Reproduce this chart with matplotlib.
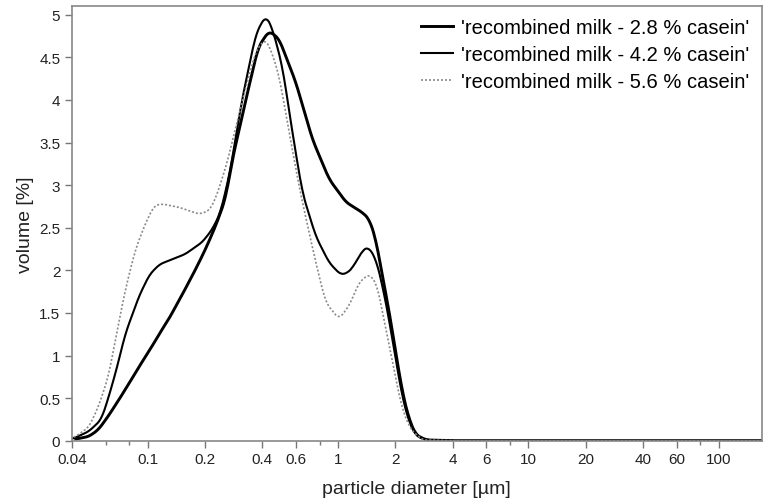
import numpy as np
import matplotlib
matplotlib.use("Agg")
import matplotlib.pyplot as plt
from matplotlib.ticker import FixedLocator, NullFormatter

plt.rcParams['font.family'] = ['Liberation Sans', 'DejaVu Sans']

# particle size distributions (diameter in um, volume in %)
d_28 = [0.0418, 0.049, 0.055, 0.062, 0.0704, 0.080, 0.090, 0.102, 0.119, 0.129, 0.152, 0.178, 0.201,
        0.227, 0.256, 0.278, 0.328, 0.38, 0.433, 0.489, 0.599, 0.732, 0.897,
        1.10, 1.34, 1.46, 1.58, 1.71, 1.86, 2.01, 2.18, 2.36, 2.56, 2.89, 4, 20, 168]
v_28 = [0.02, 0.05, 0.13, 0.29, 0.48, 0.68, 0.87, 1.06, 1.31, 1.43, 1.72, 2.01, 2.25,
        2.52, 2.84, 3.30, 4.01, 4.62, 4.81, 4.72, 4.21, 3.54, 3.07,
        2.80, 2.68, 2.60, 2.36, 1.93, 1.50, 1.03, 0.56, 0.25, 0.07, 0.01, 0.0, 0.0, 0.0]

d_42 = [0.040, 0.049, 0.057, 0.062, 0.0687, 0.076, 0.081, 0.090, 0.102, 0.115, 0.134, 0.157,
        0.193, 0.218, 0.241, 0.270, 0.313, 0.37, 0.416, 0.45, 0.509, 0.575,
        0.649, 0.763, 0.897, 1.03, 1.12, 1.19, 1.34, 1.44, 1.58, 1.71, 1.86,
        2.01, 2.18, 2.36, 2.56, 2.89, 4, 20, 168]
v_42 = [0.02, 0.11, 0.25, 0.50, 0.85, 1.25, 1.42, 1.70, 1.95, 2.07, 2.13, 2.19,
        2.33, 2.48, 2.68, 3.15, 4.01, 4.78, 4.99, 4.85, 4.40, 3.62,
        2.91, 2.40, 2.09, 1.95, 1.97, 2.03, 2.23, 2.28, 2.13, 1.82, 1.40,
        0.95, 0.50, 0.22, 0.06, 0.01, 0.0, 0.0, 0.0]

d_56 = [0.0408, 0.049, 0.055, 0.062, 0.0704, 0.0763, 0.0862, 0.0975, 0.108, 0.119, 0.146,
        0.186, 0.210, 0.227, 0.260, 0.315, 0.37, 0.416, 0.45, 0.489, 0.553,
        0.623, 0.704, 0.794, 0.862, 1.01, 1.14, 1.29, 1.46, 1.61, 1.71, 1.86,
        2.01, 2.18, 2.41, 2.78, 4, 20, 168]
v_56 = [0.035, 0.16, 0.40, 0.75, 1.39, 1.78, 2.25, 2.56, 2.76, 2.78, 2.74,
        2.66, 2.70, 2.84, 3.25, 4.01, 4.58, 4.72, 4.55, 4.29, 3.62,
        2.99, 2.44, 1.93, 1.62, 1.43, 1.58, 1.86, 1.96, 1.82, 1.50, 1.11,
        0.72, 0.36, 0.13, 0.01, 0.0, 0.0, 0.0]

labels = ["'recombined milk - 2.8 % casein'",
          "'recombined milk - 4.2 % casein'",
          "'recombined milk - 5.6 % casein'"]

x_major = [0.04, 0.1, 0.2, 0.4, 0.6, 1, 2, 4, 6, 10, 20, 40, 60, 100]
x_major_labels = ['0.04', '0.1', '0.2', '0.4', '0.6', '1', '2', '4', '6', '10', '20', '40', '60', '100']
x_minor = [0.06, 0.08, 0.8, 8, 80]
y_ticks = [0, 0.5, 1, 1.5, 2, 2.5, 3, 3.5, 4, 4.5, 5]
y_tick_labels = ['0', '0.5', '1', '1.5', '2', '2.5', '3', '3.5', '4', '4.5', '5']


def smooth(d, v, n=600):
    # resample on a log grid so the lines look continuous
    ld = np.log10(d)
    grid = np.linspace(ld[0], ld[-1], n)
    vals = np.interp(grid, ld, v)
    k = 7
    kern = np.ones(k) / k
    padded = np.concatenate([np.full(k // 2, vals[0]), vals, np.full(k // 2, vals[-1])])
    vals = np.convolve(padded, kern, mode='valid')
    return 10 ** grid, vals


fig = plt.figure(figsize=(7.67, 5.02), dpi=100)
ax = fig.add_axes([0.094, 0.120, 0.899, 0.8655])

x, y = smooth(d_28, v_28)
ax.plot(x, y, color='black', lw=2.1, label=labels[0])
x, y = smooth(d_42, v_42)
ax.plot(x, y, color='black', lw=1.5, label=labels[1])
x, y = smooth(d_56, v_56)
ax.plot(x, y, color='#8a8a8a', lw=1.2, ls=(0, (1.2, 1.2)), label=labels[2])

ax.set_xscale('log')
ax.set_xlim(0.04, 168)
ax.set_ylim(0, 5.1)

ax.xaxis.set_major_locator(FixedLocator(x_major))
ax.set_xticklabels(x_major_labels)
ax.xaxis.set_minor_locator(FixedLocator(x_minor))
ax.xaxis.set_minor_formatter(NullFormatter())
ax.set_yticks(y_ticks)
ax.set_yticklabels(y_tick_labels)

ax.tick_params(axis='both', which='major', direction='out', length=5, width=1,
               color='#777777', labelsize=11, labelcolor='#222222')
ax.tick_params(axis='x', which='minor', direction='out', length=3, width=1, color='#777777')
ax.tick_params(axis='x', pad=3)
for s in ax.spines.values():
    s.set_color('#888888')
    s.set_linewidth(1.2)

ax.set_xlabel('particle diameter [µm]', fontsize=14, color='#222222', labelpad=10)
ax.set_ylabel('volume [%]', fontsize=14, color='#222222', labelpad=4)

ax.legend(loc='upper right', frameon=False, fontsize=14.5, handlelength=1.6,
          handletextpad=0.4, labelspacing=0.4, borderaxespad=0.2)

fig.savefig('out.png', dpi=100)
